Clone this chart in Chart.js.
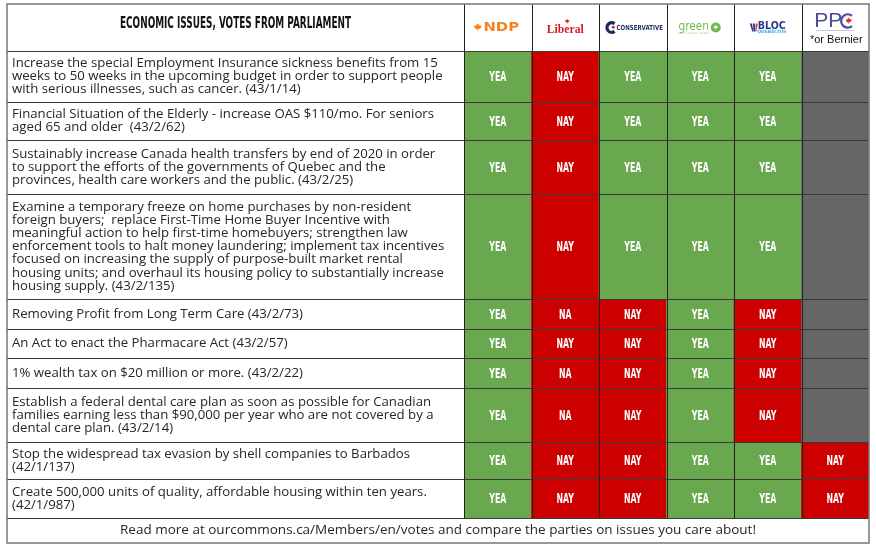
<!DOCTYPE html>
<html><head><meta charset="utf-8">
<script src="https://cdn.jsdelivr.net/npm/chart.js@4/dist/chart.umd.min.js"></script>
<style>html,body{margin:0;padding:0;background:#fff;overflow:hidden}</style>
</head><body>
<canvas id="c" width="876" height="548"></canvas>
<script>
// ---------- DATA ----------
const title = 'ECONOMIC ISSUES, VOTES FROM PARLIAMENT';
const parties = ['NDP', 'Liberal', 'Conservative', 'Green', 'Bloc', 'PPC'];
const issues = [
  ['Increase the special Employment Insurance sickness benefits from 15', 'weeks to 50 weeks in the upcoming budget in order to support people', 'with serious illnesses, such as cancer. (43/1/14)'],
  ['Financial Situation of the Elderly - increase OAS $110/mo. For seniors', 'aged 65 and older  (43/2/62)'],
  ['Sustainably increase Canada health transfers by end of 2020 in order', 'to support the efforts of the governments of Quebec and the', 'provinces, health care workers and the public. (43/2/25)'],
  ['Examine a temporary freeze on home purchases by non-resident', 'foreign buyers;  replace First-Time Home Buyer Incentive with', 'meaningful action to help first-time homebuyers; strengthen law', 'enforcement tools to halt money laundering; implement tax incentives', 'focused on increasing the supply of purpose-built market rental', 'housing units; and overhaul its housing policy to substantially increase', 'housing supply. (43/2/135)'],
  ['Removing Profit from Long Term Care (43/2/73)'],
  ['An Act to enact the Pharmacare Act (43/2/57)'],
  ['1% wealth tax on $20 million or more. (43/2/22)'],
  ['Establish a federal dental care plan as soon as possible for Canadian', 'families earning less than $90,000 per year who are not covered by a', 'dental care plan. (43/2/14)'],
  ['Stop the widespread tax evasion by shell companies to Barbados', '(42/1/137)'],
  ['Create 500,000 units of quality, affordable housing within ten years.', '(42/1/987)']
];
const ndpVotes          = ['YEA','YEA','YEA','YEA','YEA','YEA','YEA','YEA','YEA','YEA'];
const liberalVotes      = ['NAY','NAY','NAY','NAY','NA','NAY','NA','NA','NAY','NAY'];
const conservativeVotes = ['YEA','YEA','YEA','YEA','NAY','NAY','NAY','NAY','NAY','NAY'];
const greenVotes        = ['YEA','YEA','YEA','YEA','YEA','YEA','YEA','YEA','YEA','YEA'];
const blocVotes         = ['YEA','YEA','YEA','YEA','NAY','NAY','NAY','NAY','YEA','YEA'];
const ppcVotes          = [null,null,null,null,null,null,null,null,'NAY','NAY'];
const ppcNote = '*or Bernier';
const footer = 'Read more at ourcommons.ca/Members/en/votes and compare the parties on issues you care about!';

// ---------- LAYOUT / STYLE ----------
const votesByParty = [ndpVotes, liberalVotes, conservativeVotes, greenVotes, blocVotes, ppcVotes];
const headerH = 47;
const rowH = [51, 38, 54, 105, 30, 29, 30, 54, 37, 39];
const footerH = 25;
const totalH = headerH + rowH.reduce((a, b) => a + b, 0) + footerH;
const tableLeft = 7;
const voteColor = v => v === 'YEA' ? '#6aa84f' : (v === 'NAY' || v === 'NA') ? '#cc0000' : '#666666';
const COND = "'Liberation Sans Narrow', 'DejaVu Sans Condensed', 'Liberation Sans', sans-serif";
const BODY = "'Open Sans', 'Noto Sans', sans-serif";

const datasets = [{
  label: 'header',
  data: parties.map(() => headerH),
  backgroundColor: '#ffffff'
}].concat(issues.map((iss, r) => ({
  label: 'row' + r,
  data: parties.map(() => rowH[r]),
  backgroundColor: votesByParty.map(v => voteColor(v[r]))
})));

function leaf(ctx, cx, cy, s, color) {
  const p = [[0,-1],[0.15,-0.7],[0.32,-0.8],[0.25,-0.35],[0.5,-0.55],[0.56,-0.38],[0.88,-0.45],[0.76,-0.18],[0.86,-0.08],[0.42,0.25],[0.48,0.42],[0.06,0.35],[0.06,0.85],[-0.06,0.85],[-0.06,0.35],[-0.48,0.42],[-0.42,0.25],[-0.86,-0.08],[-0.76,-0.18],[-0.88,-0.45],[-0.56,-0.38],[-0.5,-0.55],[-0.25,-0.35],[-0.32,-0.8],[-0.15,-0.7]];
  ctx.beginPath();
  p.forEach((q, i) => { const X = cx + q[0] * s, Y = cy + q[1] * s; i ? ctx.lineTo(X, Y) : ctx.moveTo(X, Y); });
  ctx.closePath();
  ctx.fillStyle = color;
  ctx.fill();
}
function scaledText(ctx, text, x, y, font, color, sx, align) {
  ctx.save();
  ctx.font = font;
  ctx.translate(x, y);
  ctx.scale(sx, 1);
  ctx.fillStyle = color;
  ctx.textAlign = align || 'center';
  ctx.textBaseline = 'middle';
  ctx.fillText(text, 0, 0);
  ctx.restore();
}

const tablePlugin = {
  id: 'tablePlugin',
  beforeDraw(chart) {
    const ctx = chart.ctx;
    ctx.save();
    ctx.fillStyle = '#fff';
    ctx.fillRect(0, 0, chart.width, chart.height);
    ctx.restore();
  },
  afterDatasetsDraw(chart) {
    const ctx = chart.ctx;
    const ys = chart.scales.y;
    const area = chart.chartArea;
    const right = area.right;
    const bounds = [0, headerH];
    rowH.forEach(h => bounds.push(bounds[bounds.length - 1] + h));
    const yb = bounds.map(v => ys.getPixelForValue(v));
    const yBottom = ys.getPixelForValue(totalH);
    const meta0 = chart.getDatasetMeta(0);
    const colX = meta0.data.map(b => b.x);
    const colW = meta0.data.map(b => b.width);

    // title
    ctx.save();
    ctx.font = "bold 16px " + COND;
    const tw = ctx.measureText(title).width;
    ctx.restore();
    scaledText(ctx, title, (tableLeft + area.left) / 2, (yb[0] + yb[1]) / 2 - 4, "bold 16px " + COND, '#111', 231 / tw);

    // issue text
    ctx.save();
    ctx.font = "13.2px " + BODY;
    ctx.fillStyle = '#262626';
    ctx.textAlign = 'left';
    ctx.textBaseline = 'middle';
    issues.forEach((lines, r) => {
      const cy = (yb[r + 1] + yb[r + 2]) / 2;
      const lh = 13.2;
      lines.forEach((ln, k) => {
        ctx.fillText(ln, tableLeft + 5, cy + (k - (lines.length - 1) / 2) * lh);
      });
    });
    ctx.restore();

    // vote labels
    ctx.save();
    ctx.font = "bold 14px " + COND;
    const yeaW = ctx.measureText('YEA').width;
    ctx.restore();
    const vsx = 17 / yeaW;
    issues.forEach((lines, r) => {
      const meta = chart.getDatasetMeta(r + 1);
      meta.data.forEach((bar, c) => {
        const v = votesByParty[c][r];
        if (!v) return;
        scaledText(ctx, v, bar.x, (bar.y + bar.base) / 2 + 1, "bold 14px " + COND, '#ffffff', vsx);
      });
    });

    // header logos
    const hy = (yb[0] + yb[1]) / 2;
    // NDP
    leaf(ctx, colX[0] - 20, hy, 4.4, '#f58220');
    scaledText(ctx, 'NDP', colX[0] + 3.5, hy, "bold 13px 'DejaVu Sans', sans-serif", '#f58220', 1.14);
    // Liberal
    scaledText(ctx, 'Liberal', colX[1], hy + 2, "bold 12px 'Liberation Serif', serif", '#d71920', 0.97);
    leaf(ctx, colX[1] + 2, hy - 6, 2.6, '#d71920');
    // Conservative
    ctx.save();
    ctx.beginPath();
    ctx.arc(colX[2] - 21, hy, 4.8, Math.PI * 0.3, Math.PI * 1.7);
    ctx.strokeStyle = '#1b2d5b';
    ctx.lineWidth = 3.2;
    ctx.stroke();
    ctx.restore();
    leaf(ctx, colX[2] - 19.5, hy, 2.3, '#d71920');
    scaledText(ctx, 'CONSERVATIVE', colX[2] + 7, hy + 0.5, "bold 7px 'DejaVu Sans', sans-serif", '#1b2d5b', 0.78);
    // Green
    scaledText(ctx, 'green', colX[3] - 6.5, hy - 1, "12px 'DejaVu Sans', sans-serif", '#6dbb4a', 0.88);
    ctx.save();
    ctx.beginPath();
    ctx.arc(colX[3] + 15.5, hy, 5, 0, Math.PI * 2);
    ctx.fillStyle = '#6dbb4a';
    ctx.fill();
    ctx.restore();
    leaf(ctx, colX[3] + 15.5, hy, 2.6, '#ffffff');
    scaledText(ctx, 'parti vert du canada', colX[3] - 6.5, hy + 6, "3px 'DejaVu Sans', sans-serif", '#a5d38f', 1);
    // Bloc
    ctx.save();
    ctx.fillStyle = '#26408b';
    ctx.beginPath();
    ctx.moveTo(colX[4] - 18, hy - 4); ctx.lineTo(colX[4] - 16, hy - 4); ctx.lineTo(colX[4] - 14, hy + 4); ctx.lineTo(colX[4] - 15.5, hy + 4); ctx.closePath(); ctx.fill();
    ctx.beginPath();
    ctx.moveTo(colX[4] - 15, hy - 4); ctx.lineTo(colX[4] - 13, hy - 4); ctx.lineTo(colX[4] - 12.5, hy + 4); ctx.lineTo(colX[4] - 14, hy + 4); ctx.closePath(); ctx.fill();
    ctx.fillStyle = '#d33';
    ctx.beginPath();
    ctx.moveTo(colX[4] - 12, hy - 4); ctx.lineTo(colX[4] - 10, hy - 4); ctx.lineTo(colX[4] - 11.5, hy + 4); ctx.lineTo(colX[4] - 12.5, hy + 4); ctx.closePath(); ctx.fill();
    ctx.restore();
    scaledText(ctx, 'BLOC', colX[4] + 4, hy - 1.5, "bold 10px 'DejaVu Sans', sans-serif", '#2b3a8c', 0.95);
    scaledText(ctx, 'QUÉBÉCOIS', colX[4] + 4, hy + 4.5, "bold 4.5px 'DejaVu Sans', sans-serif", '#3fa9f5', 1);
    // PPC
    scaledText(ctx, 'PP', colX[5] - 7, hy - 6, "21px 'Liberation Sans', sans-serif", '#4b4b9b', 1);
    ctx.save();
    ctx.beginPath();
    ctx.arc(colX[5] + 12.5, hy - 6.5, 6.6, Math.PI * 0.28, Math.PI * 1.72);
    ctx.strokeStyle = '#4b4b9b';
    ctx.lineWidth = 2.3;
    ctx.stroke();
    ctx.restore();
    leaf(ctx, colX[5] + 13.5, hy - 6.5, 3.5, '#e0282e');
    ctx.save();
    ctx.fillStyle = '#c8c8dc';
    ctx.fillRect(colX[5] - 19, hy + 2.5, 38, 1);
    ctx.restore();
    scaledText(ctx, ppcNote, colX[5] + 1, hy + 12, "11px 'Liberation Sans', Arial, sans-serif", '#111', 1);

    // footer
    ctx.save();
    ctx.font = "13.5px " + BODY;
    ctx.fillStyle = '#262626';
    ctx.textAlign = 'center';
    ctx.textBaseline = 'middle';
    ctx.fillText(footer, (tableLeft + right) / 2, (yb[yb.length - 1] + yBottom) / 2);
    ctx.restore();

    // grid lines
    ctx.save();
    ctx.lineWidth = 1;
    ctx.strokeStyle = '#3a3a3a';
    for (let i = 1; i < yb.length; i++) {
      ctx.beginPath();
      ctx.moveTo(tableLeft, Math.round(yb[i]) + 0.5);
      ctx.lineTo(right, Math.round(yb[i]) + 0.5);
      ctx.stroke();
    }
    ctx.strokeStyle = '#222';
    colX.forEach((x, i) => {
      const xl = Math.round(x - colW[i] / 2) + 0.5;
      ctx.beginPath();
      ctx.moveTo(xl, yb[0]);
      ctx.lineTo(xl, yb[yb.length - 1]);
      ctx.stroke();
    });
    ctx.strokeStyle = '#777';
    ctx.lineWidth = 1.5;
    ctx.strokeRect(tableLeft, yb[0], right - tableLeft, yBottom - yb[0]);
    ctx.restore();
  }
};

new Chart(document.getElementById('c'), {
  type: 'bar',
  data: { labels: parties, datasets },
  options: {
    responsive: false,
    animation: false,
    events: [],
    layout: { padding: { left: 464, right: 7, top: 4, bottom: 5 } },
    datasets: { bar: { categoryPercentage: 1, barPercentage: 1, borderWidth: 0 } },
    plugins: { legend: { display: false }, tooltip: { enabled: false }, title: { display: false } },
    scales: {
      x: { stacked: true, display: false },
      y: { stacked: true, display: false, reverse: true, min: 0, max: totalH }
    }
  },
  plugins: [tablePlugin]
});
</script>
</body></html>
